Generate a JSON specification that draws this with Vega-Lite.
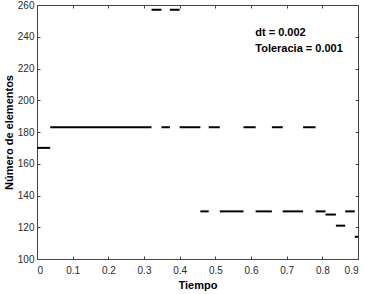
{
  "$schema": "https://vega.github.io/schema/vega-lite/v6.json",
  "width": 321,
  "height": 254,
  "autosize": {"type": "none"},
  "padding": {"left": 37, "top": 5, "right": 8, "bottom": 35},
  "background": "white",
  "config": {
    "view": {"stroke": "#444", "strokeWidth": 1},
    "font": "Liberation Sans",
    "axis": {
      "labelFont": "Liberation Sans",
      "titleFont": "Liberation Sans",
      "labelFontSize": 10,
      "labelColor": "#2a2a2a",
      "titleFontSize": 11,
      "titleFontWeight": "bold",
      "titleColor": "#000",
      "grid": false,
      "domainColor": "#444",
      "tickColor": "#444",
      "tickSize": -3
    }
  },
  "layer": [
    {
      "data": {
        "values": [
          {"t0": 0, "t1": 0.037, "n": 170},
          {"t0": 0.037, "t1": 0.321, "n": 183},
          {"t0": 0.321, "t1": 0.349, "n": 257},
          {"t0": 0.349, "t1": 0.3725, "n": 183},
          {"t0": 0.3725, "t1": 0.4, "n": 257},
          {"t0": 0.4, "t1": 0.458, "n": 183},
          {"t0": 0.458, "t1": 0.4815, "n": 130},
          {"t0": 0.4815, "t1": 0.5125, "n": 183},
          {"t0": 0.5125, "t1": 0.579, "n": 130},
          {"t0": 0.579, "t1": 0.613, "n": 183},
          {"t0": 0.613, "t1": 0.6585, "n": 130},
          {"t0": 0.6585, "t1": 0.689, "n": 183},
          {"t0": 0.689, "t1": 0.746, "n": 130},
          {"t0": 0.746, "t1": 0.781, "n": 183},
          {"t0": 0.781, "t1": 0.809, "n": 130},
          {"t0": 0.809, "t1": 0.838, "n": 128},
          {"t0": 0.838, "t1": 0.864, "n": 121},
          {"t0": 0.864, "t1": 0.891, "n": 130},
          {"t0": 0.891, "t1": 0.9, "n": 114}
        ]
      },
      "mark": {"type": "rule", "strokeWidth": 2, "color": "black", "clip": true},
      "encoding": {
        "x": {
          "field": "t0", "type": "quantitative",
          "scale": {"domain": [0, 0.9], "nice": false, "zero": false},
          "axis": {"orient": "bottom", "title": "Tiempo", "values": [0, 0.1, 0.2, 0.3, 0.4, 0.5, 0.6, 0.7, 0.8, 0.9], "format": ".1~f", "labelPadding": 9, "titlePadding": 4, "domain": false}
        },
        "x2": {"field": "t1"},
        "y": {
          "field": "n", "type": "quantitative",
          "scale": {"domain": [100, 260], "nice": false, "zero": false},
          "axis": {"orient": "left", "title": "Número de elementos", "values": [100, 120, 140, 160, 180, 200, 220, 240, 260], "labelPadding": 6, "titlePadding": 3, "domain": false}
        }
      }
    },
    {
      "data": {
        "values": [
          {"x": 0.612, "y": 242.5, "label": "dt = 0.002"},
          {"x": 0.612, "y": 232.5, "label": "Toleracia = 0.001"}
        ]
      },
      "mark": {"type": "text", "align": "left", "baseline": "middle", "fontSize": 11, "fontWeight": "bold", "font": "Liberation Sans", "color": "black"},
      "encoding": {
        "x": {
          "field": "x", "type": "quantitative",
          "axis": {"orient": "top", "labels": false, "title": null, "domain": false, "values": [0, 0.1, 0.2, 0.3, 0.4, 0.5, 0.6, 0.7, 0.8, 0.9]}
        },
        "y": {
          "field": "y", "type": "quantitative",
          "axis": {"orient": "right", "labels": false, "title": null, "domain": false, "values": [100, 120, 140, 160, 180, 200, 220, 240, 260]}
        },
        "text": {"field": "label"}
      }
    }
  ],
  "resolve": {"axis": {"x": "independent", "y": "independent"}}
}
